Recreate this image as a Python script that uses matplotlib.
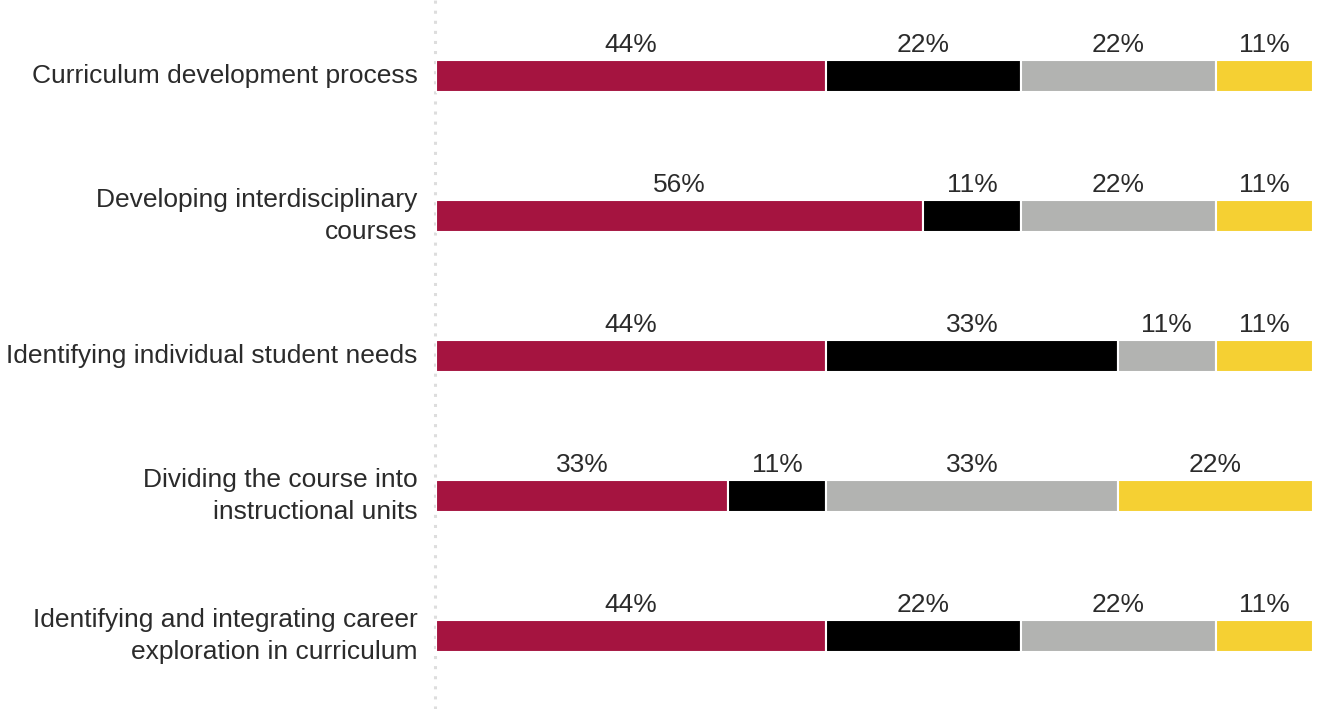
import matplotlib.pyplot as plt
import numpy as np

plt.rcParams['font.family'] = ['Liberation Sans', 'DejaVu Sans']

categories = [
    "Curriculum development process",
    "Developing interdisciplinary\ncourses",
    "Identifying individual student needs",
    "Dividing the course into\ninstructional units",
    "Identifying and integrating career\nexploration in curriculum",
]
# responses per segment (out of 9)
seg1 = [4, 5, 4, 3, 4]
seg2 = [2, 1, 3, 1, 2]
seg3 = [2, 2, 1, 3, 2]
seg4 = [1, 1, 1, 2, 1]
colors = ["#A51440", "#000000", "#B2B3B1", "#F5D033"]

data = np.array([seg1, seg2, seg3, seg4], dtype=float)
shares = data / data.sum(axis=0) * 100

fig = plt.figure(figsize=(13.17, 7.09), dpi=100)
ax = fig.add_axes([436 / 1317, 0, 877 / 1317, 1])

y = np.arange(len(categories))
left = np.zeros(len(categories))
for k in range(4):
    ax.barh(y, shares[k], left=left, height=0.235, color=colors[k],
            edgecolor="white", linewidth=1.5, zorder=3)
    for i in range(len(categories)):
        ax.text(left[i] + shares[k][i] / 2, y[i] - 0.175, f"{shares[k][i]:.0f}%",
                ha="center", va="baseline", fontsize=19, color="#2b2b2b")
    left += shares[k]

for i, lab in enumerate(categories):
    ax.text(-2.1, y[i], lab, ha="right", va="center", fontsize=19,
            color="#2b2b2b", linespacing=1.37)

ax.axvline(-0.15, color="#dddddd", linewidth=2.2, linestyle=(0, (1, 2.3)),
           clip_on=False, zorder=1)

ax.set_xlim(0, 100)
ax.set_ylim(4 + 73 / 140, -76 / 140)
ax.axis("off")

fig.savefig("out.png", dpi=100)
